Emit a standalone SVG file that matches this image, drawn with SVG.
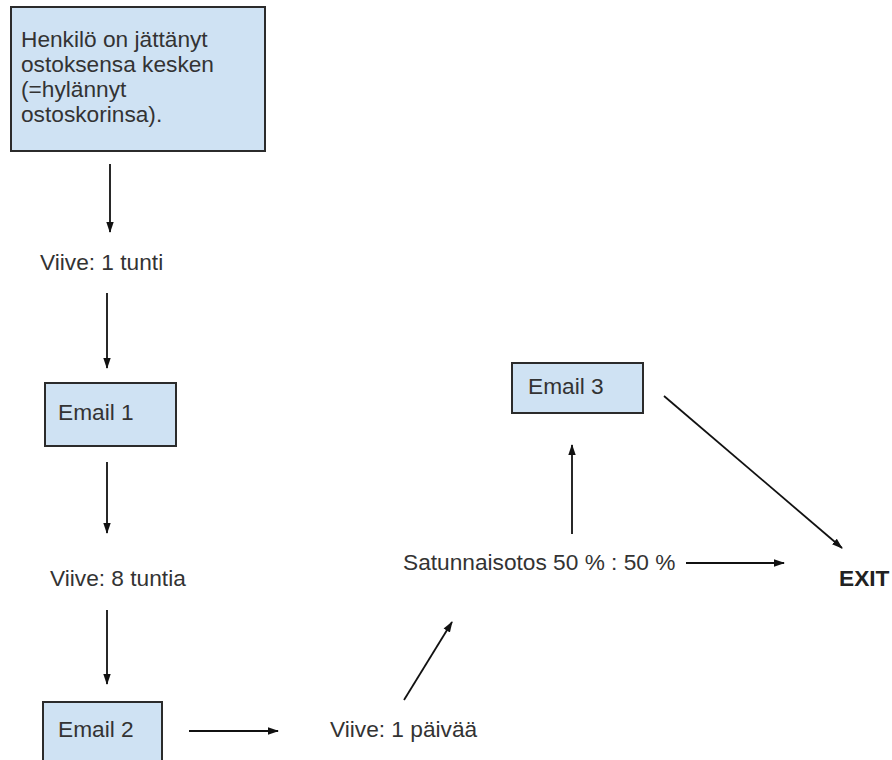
<svg xmlns="http://www.w3.org/2000/svg" width="892" height="760" viewBox="0 0 892 760">
<style>
.box{fill:#cfe2f3;stroke:#2b2b2b;stroke-width:2}
.t{font-family:"Liberation Sans",Arial,sans-serif;font-size:22.7px;fill:#333}
.b{font-weight:bold;fill:#222}
.c line{stroke:#111;stroke-width:1.8;marker-end:url(#ah)}
</style>
<defs>
<marker id="ah" markerUnits="userSpaceOnUse" markerWidth="11" markerHeight="11" viewBox="0 0 11 10" refX="10" refY="5" orient="auto">
<path d="M0,1.3 L11,5 L0,8.7 Z" fill="#111"/>
</marker>
</defs>
<rect width="892" height="760" fill="#fff"/>
<g id="start">
<rect class="box" x="11" y="7" width="254" height="144"/>
<text class="t" x="21" y="47">Henkilö on jättänyt</text>
<text class="t" x="21" y="72">ostoksensa kesken</text>
<text class="t" x="21" y="97">(=hylännyt</text>
<text class="t" x="21" y="122">ostoskorinsa).</text>
</g>
<g id="delay1"><text class="t" x="40" y="270">Viive: 1 tunti</text></g>
<g id="email1">
<rect class="box" x="45" y="383" width="131" height="63"/>
<text class="t" x="58" y="420">Email 1</text>
</g>
<g id="delay2"><text class="t" x="50" y="586">Viive: 8 tuntia</text></g>
<g id="email2">
<rect class="box" x="43" y="702" width="119" height="70"/>
<text class="t" x="58" y="737">Email 2</text>
</g>
<g id="delay3"><text class="t" x="330" y="737">Viive: 1 päivää</text></g>
<g id="split"><text class="t" x="403" y="570">Satunnaisotos 50 % : 50 %</text></g>
<g id="email3">
<rect class="box" x="512" y="363" width="131" height="50"/>
<text class="t" x="528" y="394">Email 3</text>
</g>
<g id="exit"><text class="t b" x="839" y="586">EXIT</text></g>
<g class="c" id="connectors">
<line x1="110" y1="164" x2="110" y2="232"/>
<line x1="107" y1="293" x2="107" y2="368"/>
<line x1="107" y1="462" x2="107" y2="533"/>
<line x1="107" y1="610" x2="107" y2="684"/>
<line x1="189" y1="731" x2="278" y2="731"/>
<line x1="404" y1="700" x2="452" y2="622"/>
<line x1="572" y1="534" x2="572" y2="445"/>
<line x1="686" y1="563" x2="784" y2="563"/>
<line x1="664" y1="396" x2="842" y2="548"/>
</g>
</svg>
